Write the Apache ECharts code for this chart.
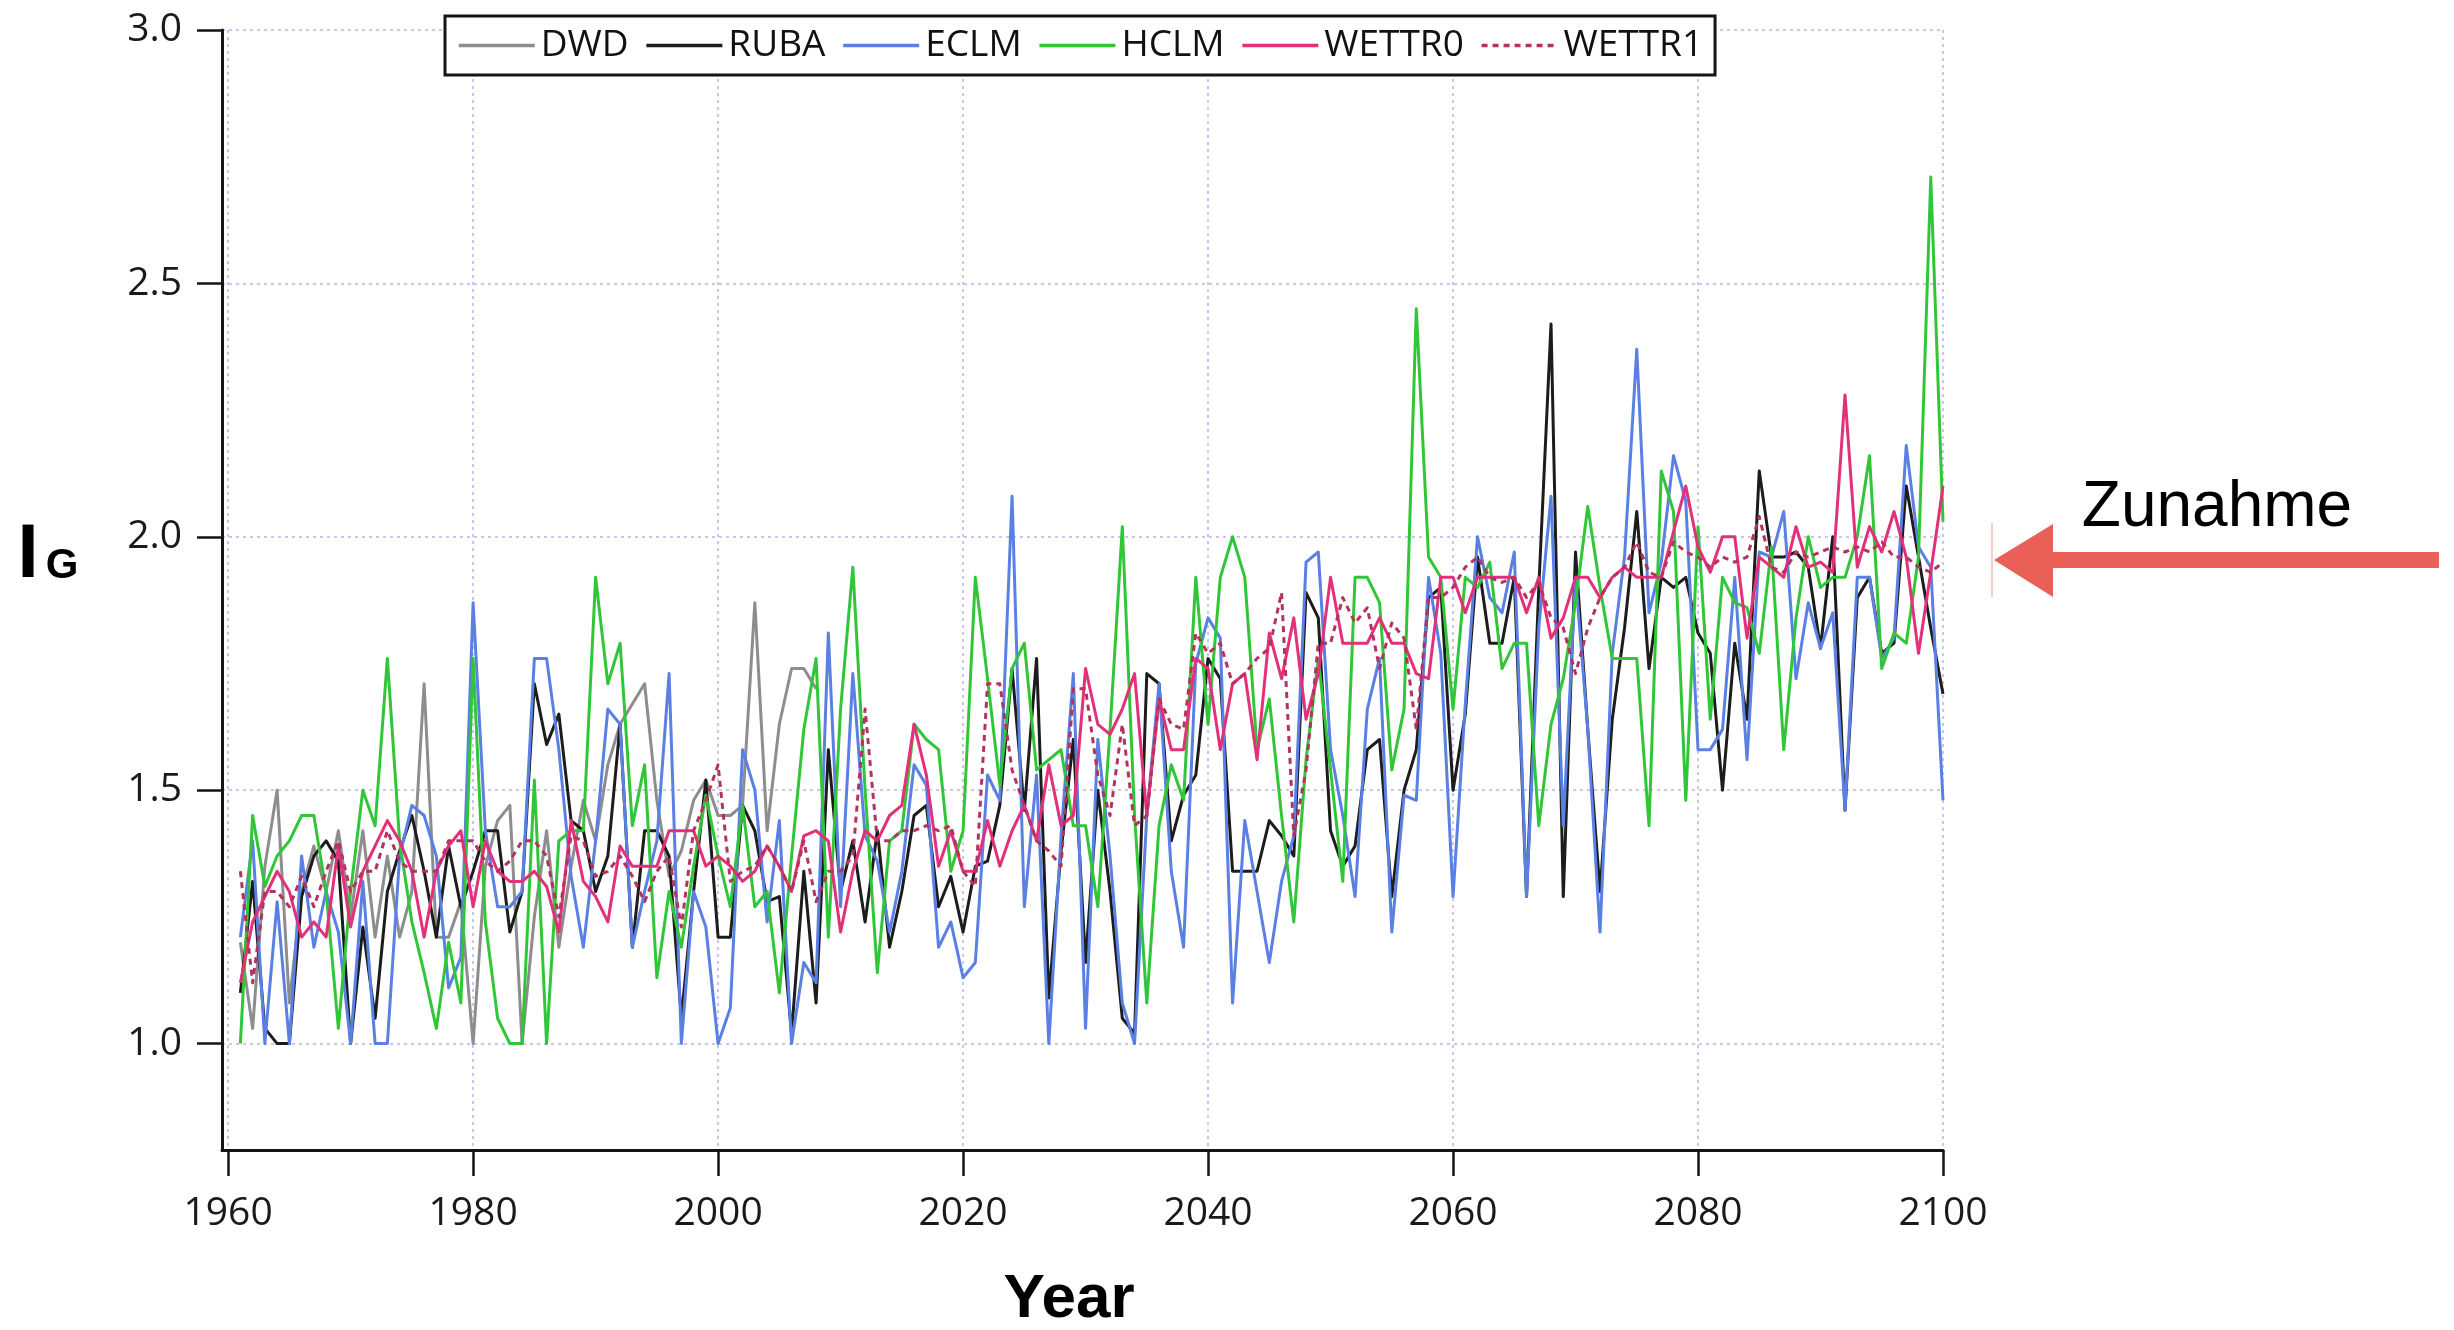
<!DOCTYPE html>
<html>
<head>
<meta charset="utf-8">
<script src="https://cdn.jsdelivr.net/npm/echarts@6/dist/echarts.min.js"></script>
<style>
  html, body { margin: 0; padding: 0; background: #ffffff; }
  #chart { width: 2454px; height: 1330px; }
</style>
</head>
<body>
<div id="chart"></div>
<script>
// Annual index values, 1961-2100 (DWD observations end in 2008)
const firstYear = 1961;
const lastYear = 2100;

const xTicks = [1960, 1980, 2000, 2020, 2040, 2060, 2080, 2100];
const yTicks = [1.0, 1.5, 2.0, 2.5, 3.0];

const seriesNames = ['DWD', 'RUBA', 'ECLM', 'HCLM', 'WETTR0', 'WETTR1'];

const dwd = [
  1.20, 1.03, 1.35, 1.50, 1.08, 1.30, 1.39, 1.30, 1.42, 1.25,
  1.42, 1.21, 1.37, 1.21, 1.30, 1.71, 1.21, 1.21, 1.28, 1.00,
  1.35, 1.44, 1.47, 1.00, 1.25, 1.42, 1.19, 1.35, 1.48, 1.40,
  1.55, 1.63, 1.67, 1.71, 1.48, 1.33, 1.38, 1.48, 1.52, 1.45,
  1.45, 1.47, 1.87, 1.42, 1.63, 1.74, 1.74, 1.70
];

const ruba = [
  1.10, 1.32, 1.03, 1.00, 1.00, 1.29, 1.37, 1.40, 1.36, 1.00,
  1.23, 1.05, 1.30, 1.38, 1.45, 1.34, 1.21, 1.39, 1.27, 1.34,
  1.42, 1.42, 1.22, 1.30, 1.71, 1.59, 1.65, 1.44, 1.42, 1.30,
  1.37, 1.63, 1.19, 1.42, 1.42, 1.37, 1.05, 1.30, 1.52, 1.21,
  1.21, 1.47, 1.42, 1.28, 1.29, 1.02, 1.34, 1.08, 1.58, 1.30,
  1.40, 1.24, 1.42, 1.19, 1.30, 1.45, 1.47, 1.27, 1.33, 1.22,
  1.35, 1.36, 1.47, 1.74, 1.46, 1.76, 1.09, 1.38, 1.60, 1.16,
  1.50, 1.30, 1.05, 1.02, 1.73, 1.71, 1.40, 1.49, 1.53, 1.76,
  1.72, 1.34, 1.34, 1.34, 1.44, 1.41, 1.37, 1.89, 1.84, 1.42,
  1.35, 1.39, 1.58, 1.60, 1.29, 1.50, 1.58, 1.88, 1.90, 1.50,
  1.65, 1.96, 1.79, 1.79, 1.92, 1.29, 1.90, 2.42, 1.29, 1.97,
  1.62, 1.30, 1.64, 1.82, 2.05, 1.74, 1.92, 1.90, 1.92, 1.81,
  1.77, 1.50, 1.79, 1.64, 2.13, 1.96, 1.96, 1.97, 1.94, 1.78,
  2.00, 1.46, 1.88, 1.92, 1.77, 1.79, 2.10, 1.96, 1.82, 1.69
];

const eclm = [
  1.21, 1.40, 1.00, 1.28, 1.00, 1.37, 1.19, 1.30, 1.22, 1.00,
  1.32, 1.00, 1.00, 1.37, 1.47, 1.45, 1.37, 1.11, 1.17, 1.87,
  1.42, 1.27, 1.27, 1.30, 1.76, 1.76, 1.58, 1.33, 1.19, 1.40,
  1.66, 1.63, 1.19, 1.30, 1.40, 1.73, 1.00, 1.30, 1.23, 1.00,
  1.07, 1.58, 1.50, 1.24, 1.44, 1.00, 1.16, 1.12, 1.81, 1.27,
  1.73, 1.41, 1.36, 1.22, 1.34, 1.55, 1.51, 1.19, 1.24, 1.13,
  1.16, 1.53, 1.48, 2.08, 1.27, 1.53, 1.00, 1.41, 1.73, 1.03,
  1.60, 1.37, 1.08, 1.00, 1.45, 1.71, 1.34, 1.19, 1.75, 1.84,
  1.80, 1.08, 1.44, 1.30, 1.16, 1.32, 1.41, 1.95, 1.97, 1.58,
  1.45, 1.29, 1.66, 1.76, 1.22, 1.49, 1.48, 1.92, 1.77, 1.29,
  1.67, 2.00, 1.88, 1.85, 1.97, 1.29, 1.82, 2.08, 1.43, 1.92,
  1.62, 1.22, 1.77, 1.96, 2.37, 1.85, 1.95, 2.16, 2.07, 1.58,
  1.58, 1.62, 1.92, 1.56, 1.97, 1.96, 2.05, 1.72, 1.87, 1.78,
  1.85, 1.46, 1.92, 1.92, 1.76, 1.80, 2.18, 1.98, 1.94, 1.48
];

const hclm = [
  1.00, 1.45, 1.31, 1.37, 1.40, 1.45, 1.45, 1.30, 1.03, 1.30,
  1.50, 1.43, 1.76, 1.40, 1.24, 1.14, 1.03, 1.20, 1.08, 1.76,
  1.24, 1.05, 1.00, 1.00, 1.52, 1.00, 1.40, 1.42, 1.42, 1.92,
  1.71, 1.79, 1.43, 1.55, 1.13, 1.30, 1.19, 1.35, 1.49, 1.37,
  1.27, 1.47, 1.27, 1.30, 1.10, 1.37, 1.62, 1.76, 1.21, 1.66,
  1.94, 1.50, 1.14, 1.40, 1.42, 1.63, 1.60, 1.58, 1.34, 1.42,
  1.92, 1.72, 1.51, 1.74, 1.79, 1.54, 1.56, 1.58, 1.43, 1.43,
  1.27, 1.62, 2.02, 1.45, 1.08, 1.43, 1.55, 1.48, 1.92, 1.63,
  1.92, 2.00, 1.92, 1.58, 1.68, 1.45, 1.24, 1.56, 1.76, 1.54,
  1.32, 1.92, 1.92, 1.87, 1.54, 1.66, 2.45, 1.96, 1.92, 1.66,
  1.92, 1.90, 1.95, 1.74, 1.79, 1.79, 1.43, 1.63, 1.72, 1.87,
  2.06, 1.90, 1.76, 1.76, 1.76, 1.43, 2.13, 2.05, 1.48, 2.02,
  1.64, 1.92, 1.87, 1.86, 1.77, 1.98, 1.58, 1.84, 2.00, 1.90,
  1.92, 1.92, 2.00, 2.16, 1.74, 1.81, 1.79, 1.96, 2.71, 2.03
];

const wettr0 = [
  1.12, 1.24, 1.29, 1.34, 1.30, 1.21, 1.24, 1.21, 1.39, 1.23,
  1.34, 1.39, 1.44, 1.40, 1.34, 1.21, 1.34, 1.39, 1.42, 1.27,
  1.40, 1.34, 1.32, 1.32, 1.34, 1.31, 1.22, 1.44, 1.32, 1.29,
  1.24, 1.39, 1.35, 1.35, 1.35, 1.42, 1.42, 1.42, 1.35, 1.37,
  1.35, 1.32, 1.34, 1.39, 1.35, 1.30, 1.41, 1.42, 1.40, 1.22,
  1.34, 1.42, 1.40, 1.45, 1.47, 1.63, 1.53, 1.35, 1.42, 1.34,
  1.34, 1.44, 1.35, 1.42, 1.47, 1.40, 1.55, 1.43, 1.45, 1.74,
  1.63, 1.61, 1.66, 1.73, 1.45, 1.68, 1.58, 1.58, 1.76, 1.74,
  1.58, 1.71, 1.73, 1.56, 1.81, 1.72, 1.84, 1.64, 1.73, 1.92,
  1.79, 1.79, 1.79, 1.84, 1.79, 1.79, 1.73, 1.72, 1.92, 1.92,
  1.85, 1.92, 1.92, 1.92, 1.92, 1.85, 1.92, 1.80, 1.84, 1.92,
  1.92, 1.88, 1.92, 1.94, 1.92, 1.92, 1.92, 2.01, 2.10, 1.98,
  1.93, 2.00, 2.00, 1.80, 1.96, 1.94, 1.92, 2.02, 1.94, 1.95,
  1.93, 2.28, 1.94, 2.02, 1.97, 2.05, 1.96, 1.77, 1.93, 2.10
];

const wettr1 = [
  1.34, 1.12, 1.30, 1.30, 1.27, 1.33, 1.27, 1.34, 1.40, 1.30,
  1.34, 1.34, 1.42, 1.36, 1.34, 1.34, 1.34, 1.40, 1.40, 1.40,
  1.36, 1.34, 1.36, 1.40, 1.40, 1.37, 1.25, 1.41, 1.40, 1.33,
  1.34, 1.37, 1.33, 1.28, 1.34, 1.37, 1.23, 1.42, 1.48, 1.55,
  1.32, 1.34, 1.35, 1.39, 1.35, 1.30, 1.40, 1.28, 1.34, 1.34,
  1.37, 1.66, 1.40, 1.40, 1.42, 1.42, 1.43, 1.42, 1.43, 1.34,
  1.31, 1.71, 1.71, 1.54, 1.47, 1.40, 1.38, 1.35, 1.70, 1.70,
  1.53, 1.45, 1.63, 1.43, 1.45, 1.68, 1.63, 1.62, 1.81, 1.77,
  1.79, 1.71, 1.73, 1.76, 1.78, 1.89, 1.41, 1.54, 1.79, 1.79,
  1.88, 1.83, 1.86, 1.74, 1.83, 1.80, 1.62, 1.88, 1.88, 1.90,
  1.94, 1.96, 1.92, 1.91, 1.92, 1.88, 1.91, 1.84, 1.82, 1.73,
  1.82, 1.88, 1.92, 1.94, 1.99, 1.93, 1.92, 1.99, 1.97, 1.96,
  1.94, 1.96, 1.95, 1.96, 2.04, 1.94, 1.93, 1.97, 1.96, 1.97,
  1.98, 1.97, 1.98, 1.97, 1.99, 1.96, 1.96, 1.94, 1.93, 1.95
];

// pair each value with its year, starting at firstYear
function withYears(values) {
  return values.map((v, i) => [firstYear + i, v]);
}

const colors = {
  DWD: '#8d8d8d',
  RUBA: '#1c1c1c',
  ECLM: '#5b80e4',
  HCLM: '#30c637',
  WETTR0: '#e2317a',
  WETTR1: '#b3335f'
};

const font = '"Open Sans", "DejaVu Sans", sans-serif';
const gridColor = '#c6c6ee';

function lineSeries(name, values, dash) {
  return {
    name: name,
    type: 'line',
    data: withYears(values),
    symbol: 'none',
    showSymbol: false,
    clip: true,
    lineStyle: { color: colors[name], width: 3, type: dash ? [6, 5] : 'solid', join: 'round' },
    itemStyle: { color: colors[name] },
    emphasis: { disabled: true }
  };
}

const chart = echarts.init(document.getElementById('chart'), null, { renderer: 'canvas' });

chart.setOption({
  animation: false,
  backgroundColor: '#ffffff',
  grid: { left: 222, right: 511, top: 30, bottom: 180, containLabel: false },
  xAxis: {
    type: 'value',
    min: 1959.5,
    max: lastYear,
    axisLine: { show: true, onZero: false, lineStyle: { color: '#151515', width: 3 } },
    axisTick: { show: true, customValues: xTicks, length: 26, lineStyle: { color: '#151515', width: 2.5 } },
    axisLabel: {
      customValues: xTicks, margin: 44, color: '#1a1a1a', fontSize: 39, fontFamily: font,
      formatter: v => String(Math.round(v))
    },
    splitLine: { show: true, lineStyle: { color: gridColor, width: 2, type: [3, 4] } }
  },
  yAxis: {
    type: 'value',
    min: 0.79,
    max: 3.0,
    axisLine: { show: true, onZero: false, lineStyle: { color: '#151515', width: 3 } },
    axisTick: { show: true, customValues: yTicks, length: 25, lineStyle: { color: '#151515', width: 2.5 } },
    axisLabel: {
      customValues: yTicks, margin: 40, color: '#1a1a1a', fontSize: 39, fontFamily: font,
      formatter: v => v.toFixed(1)
    },
    splitLine: { show: true, lineStyle: { color: gridColor, width: 2, type: [3, 4] } }
  },
  legend: {
    data: seriesNames,
    left: 445,
    top: 16,
    orient: 'horizontal',
    padding: [11, 12, 11, 12],
    itemGap: 16,
    itemWidth: 76,
    itemHeight: 20,
    backgroundColor: '#ffffff',
    borderColor: '#151515',
    borderWidth: 3,
    selectedMode: false,
    // line-only keys: hide the centre marker
    itemStyle: { opacity: 0 },
    lineStyle: { width: 3.5 },
    textStyle: { fontFamily: font, fontSize: 37, color: '#111111', padding: [0, 0, 0, 1] }
  },
  series: [
    lineSeries('DWD', dwd),
    lineSeries('RUBA', ruba),
    lineSeries('ECLM', eclm),
    lineSeries('HCLM', hclm),
    lineSeries('WETTR0', wettr0),
    lineSeries('WETTR1', wettr1, true)
  ],
  graphic: [
    // axis titles
    {
      type: 'text', x: 1069, y: 1300,
      style: { text: 'Year', font: 'bold 62px "Liberation Sans", Arial, sans-serif', fill: '#000', textAlign: 'center', textVerticalAlign: 'middle' }
    },
    {
      type: 'text', x: 28, y: 556,
      style: { text: 'I', font: 'bold 76px "Liberation Sans", Arial, sans-serif', fill: '#000', textAlign: 'center', textVerticalAlign: 'middle' }
    },
    {
      type: 'text', x: 62, y: 566,
      style: { text: 'G', font: 'bold 42px "Liberation Sans", Arial, sans-serif', fill: '#000', textAlign: 'center', textVerticalAlign: 'middle' }
    },
    // trend annotation
    {
      type: 'text', x: 2217, y: 508,
      style: { text: 'Zunahme', font: '64px "Liberation Sans", Arial, sans-serif', fill: '#000', textAlign: 'center', textVerticalAlign: 'middle' }
    },
    {
      type: 'rect', shape: { x: 1991, y: 523, width: 2, height: 74 },
      style: { fill: '#f4cfcc' }
    },
    {
      type: 'rect', shape: { x: 2048, y: 552, width: 391, height: 16 },
      style: { fill: '#ea5f58' }
    },
    {
      type: 'polygon', shape: { points: [[1994, 560], [2053, 524], [2053, 597]] },
      style: { fill: '#ea5f58' }
    }
  ]
});
</script>
</body>
</html>
